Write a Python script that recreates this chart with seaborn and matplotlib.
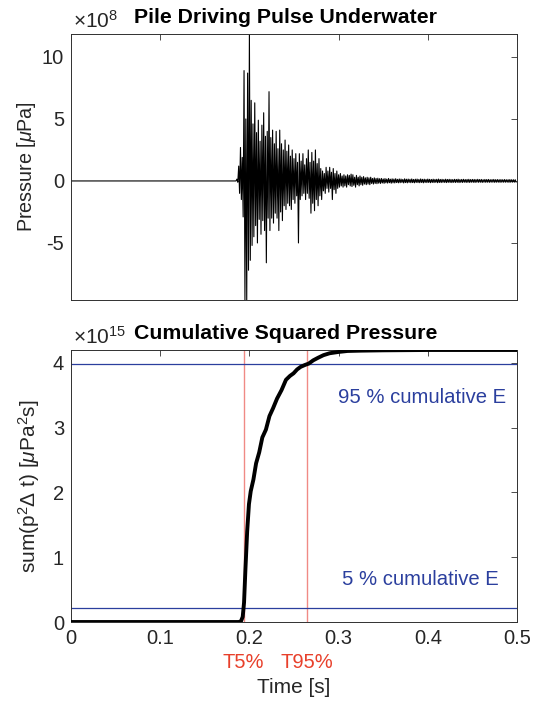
import numpy as np
import pandas as pd
import matplotlib
matplotlib.use("Agg")
import matplotlib.pyplot as plt
import matplotlib.transforms as mtransforms
import seaborn as sns

# ---------------- data ----------------
# Pulse envelope: per 2 ms bin, the max / min pressure (units of 1e8 uPa)
bin_start = 0.186
bin_step = 0.002
env_hi = [0.15, 1.2, 2.7, 1.9, 8.9, 5.0, 8.7, 11.85, 6.5, 4.6,
          6.3, 3.9, 4.9, 3.2, 4.5, 5.5, 3.6, 4.0, 7.2, 3.5,
          4.1, 3.0, 4.0, 2.6, 4.1, 3.0, 2.5, 3.3, 2.4, 2.9,
          2.0, 2.5, 1.8, 2.2, 1.5, 2.2, 1.6, 2.2, 1.3, 1.8,
          2.5, 1.5, 2.3, 1.6, 2.5, 1.4, 1.8, 1.0, 0.8, 0.6,
          1.1, 0.8, 1.1, 0.7, 1.0, 0.6, 0.8, 0.5, 0.6, 0.4,
          0.5, 0.4, 0.5, 0.45, 0.55, 0.5, 0.3, 0.45, 0.3, 0.4,
          0.3, 0.35, 0.25, 0.3, 0.25, 0.3, 0.2, 0.25, 0.2, 0.22,
          0.18, 0.2, 0.16, 0.19, 0.15, 0.2, 0.14, 0.17, 0.15, 0.18,
          0.13, 0.16, 0.15, 0.12, 0.17, 0.14, 0.15, 0.13, 0.16, 0.12,
          0.14, 0.15, 0.12, 0.16, 0.13, 0.14, 0.12, 0.15, 0.13, 0.12,
          0.14, 0.12, 0.13, 0.15, 0.12, 0.13, 0.11, 0.14, 0.12, 0.13,
          0.12, 0.11, 0.13, 0.12, 0.14, 0.11, 0.12, 0.13, 0.11, 0.12,
          0.13, 0.11, 0.12, 0.12, 0.11, 0.13, 0.11, 0.12, 0.1, 0.12,
          0.11, 0.12, 0.1, 0.11, 0.12, 0.1, 0.11, 0.1, 0.11, 0.1,
          0.11, 0.1, 0.1, 0.11, 0.1, 0.1, 0.1]
env_lo = [-0.1, -1.0, -1.5, -2.9, -9.6, -9.6, -7.2, -6.4, -5.2, -4.5,
          -3.6, -5.0, -3.1, -4.3, -3.2, -4.0, -6.6, -3.0, -4.0, -3.0,
          -3.4, -2.6, -3.0, -4.0, -2.5, -3.2, -2.0, -2.3, -1.8, -2.0,
          -2.3, -1.5, -1.8, -1.2, -5.0, -1.5, -1.2, -1.0, -1.5, -1.0,
          -1.4, -2.6, -1.8, -2.4, -1.5, -2.0, -1.2, -1.5, -0.8, -1.0,
          -0.6, -0.9, -0.6, -1.5, -0.7, -1.0, -0.6, -0.5, -0.4, -0.5,
          -0.4, -0.5, -0.3, -0.4, -0.45, -0.35, -0.5, -0.3, -0.4, -0.3,
          -0.35, -0.25, -0.3, -0.25, -0.3, -0.2, -0.25, -0.2, -0.22, -0.18,
          -0.2, -0.16, -0.19, -0.15, -0.17, -0.14, -0.18, -0.15, -0.16, -0.13,
          -0.15, -0.14, -0.12, -0.16, -0.13, -0.15, -0.12, -0.14, -0.13, -0.15,
          -0.12, -0.13, -0.14, -0.12, -0.15, -0.12, -0.13, -0.12, -0.14, -0.12,
          -0.13, -0.11, -0.14, -0.12, -0.13, -0.11, -0.12, -0.13, -0.11, -0.12,
          -0.13, -0.11, -0.12, -0.11, -0.13, -0.11, -0.12, -0.1, -0.12, -0.11,
          -0.12, -0.1, -0.11, -0.12, -0.1, -0.11, -0.1, -0.12, -0.1, -0.11,
          -0.1, -0.11, -0.1, -0.1, -0.11, -0.1, -0.1, -0.11, -0.1, -0.1,
          -0.1, -0.1, -0.11, -0.1, -0.1, -0.1, -0.1]

# Cumulative squared pressure (units of 1e15 uPa^2 s)
cum_t = [0.0, 0.188, 0.1905, 0.1925, 0.194, 0.1955, 0.1975, 0.1995, 0.2015,
         0.2045, 0.2075, 0.211, 0.2145, 0.2185, 0.2225, 0.2265, 0.231, 0.236,
         0.241, 0.2455, 0.2495, 0.2535, 0.2575, 0.2625, 0.2665, 0.2715, 0.277,
         0.283, 0.29, 0.3, 0.31, 0.325, 0.35, 0.4, 0.5]
cum_v = [0.0, 0.0, 0.01, 0.08, 0.3, 0.8, 1.4, 1.82, 2.02,
         2.2, 2.45, 2.62, 2.85, 2.97, 3.18, 3.3, 3.45, 3.58,
         3.74, 3.8, 3.84, 3.9, 3.94, 3.97, 3.99, 4.04, 4.08,
         4.12, 4.15, 4.17, 4.185, 4.19, 4.195, 4.2, 4.2]
cum_total = 4.2
t5 = 0.1935
t95 = 0.2645
x_ticks = [0, 0.1, 0.2, 0.3, 0.4, 0.5]
x_ticklabels = ["0", "0.1", "0.2", "0.3", "0.4", "0.5"]
top_yticks = [-5, 0, 5, 10]
bot_yticks = [0, 1, 2, 3, 4]

# ---------------- style ----------------
sns.set_style("white")
plt.rcParams["font.family"] = ["Liberation Sans", "DejaVu Sans"]
plt.rcParams["mathtext.fontset"] = "custom"
plt.rcParams["mathtext.rm"] = "Liberation Sans"
plt.rcParams["mathtext.it"] = "Liberation Sans:italic"
plt.rcParams["mathtext.bf"] = "Liberation Sans:bold"
plt.rcParams["axes.unicode_minus"] = False

dark = "#262626"
edge = "#303030"
red_line = "#f08a85"
red_txt = "#e8402b"
blue = "#2b3f9e"

fig = plt.figure(figsize=(5.38, 7.04), dpi=100)
ax1 = fig.add_axes([71 / 538, 1 - 300 / 704, 446 / 538, 266 / 704])
ax2 = fig.add_axes([71 / 538, 1 - 622 / 704, 446 / 538, 272 / 704])

# ---- top: waveform ----
bin_t = bin_start + bin_step * np.arange(len(env_hi))
wt = np.concatenate([[0.0, bin_start - 0.001],
                     np.column_stack([bin_t, bin_t + bin_step / 2]).ravel()])
wp = np.concatenate([[0.0, 0.0],
                     np.column_stack([env_hi, env_lo]).ravel()])
wave = pd.DataFrame({"t": wt, "p": wp})
sns.lineplot(data=wave, x="t", y="p", ax=ax1, color="black", lw=0.8,
             estimator=None, sort=False)
ax1.set_xlim(0, 0.5)
ax1.set_ylim(min(env_lo), max(env_hi))
ax1.set_xticks(x_ticks)
ax1.set_xticklabels([])
ax1.set_yticks(top_yticks)
ax1.set_yticklabels([str(v) for v in top_yticks])
ax1.set_xlabel("")
ax1.set_ylabel(r"Pressure [$\mu$Pa]", fontsize=14.2, color=dark, labelpad=3)
ax1.set_title("Pile Driving Pulse Underwater", fontsize=15.3, fontweight="bold",
              color="black", x=0.482, pad=8)
ax1.text(0.004, 1.008, r"$\times$10$^{8}$", transform=ax1.transAxes,
         ha="left", va="bottom", fontsize=15, color=dark)

# ---- bottom: cumulative ----
cum = pd.DataFrame({"t": cum_t, "v": cum_v})
ax2.axvline(t5, color=red_line, lw=1.0, zorder=1)
ax2.axvline(t95, color=red_line, lw=1.0, zorder=1)
ax2.axhline(0.95 * cum_total, color=blue, lw=0.9, zorder=1)
ax2.axhline(0.05 * cum_total, color=blue, lw=0.9, zorder=1)
sns.lineplot(data=cum, x="t", y="v", ax=ax2, color="black", lw=2.8,
             estimator=None, sort=False, zorder=3)
ax2.set_xlim(0, 0.5)
ax2.set_ylim(0, cum_total)
ax2.set_xticks(x_ticks)
ax2.set_xticklabels(x_ticklabels)
ax2.set_yticks(bot_yticks)
ax2.set_yticklabels([str(v) for v in bot_yticks])
ax2.set_ylabel(r"sum(p$^2\Delta$ t) [$\mu$Pa$^2$s]", fontsize=15, color=dark,
               labelpad=8)
ax2.set_xlabel("Time [s]", fontsize=15, color=dark)
ax2.xaxis.set_label_coords(0.5, -0.205)
ax2.set_title("Cumulative Squared Pressure", fontsize=15.3, fontweight="bold",
              color="black", x=0.482, pad=8)
ax2.text(0.004, 1.008, r"$\times$10$^{15}$", transform=ax2.transAxes,
         ha="left", va="bottom", fontsize=15, color=dark)
ax2.text(0.2993, 3.47, "95 % cumulative E", color=blue, fontsize=14.6,
         ha="left", va="center")
ax2.text(0.3035, 0.65, "5 % cumulative E", color=blue, fontsize=14.6,
         ha="left", va="center")
trans = mtransforms.blended_transform_factory(ax2.transData, ax2.transAxes)
ax2.text(t5, -0.148, "T5%", transform=trans, color=red_txt, fontsize=14.5,
         ha="center", va="center")
ax2.text(t95, -0.148, "T95%", transform=trans, color=red_txt, fontsize=14.5,
         ha="center", va="center")

for ax in (ax1, ax2):
    ax.tick_params(direction="in", top=True, right=True, length=4, width=0.6,
                   colors=edge, labelcolor=dark, labelsize=14.5, pad=5)
    for s in ax.spines.values():
        s.set_color(edge)
        s.set_linewidth(0.7)
        s.set_visible(True)
    ax.grid(False)

fig.savefig("out.png", dpi=100)
